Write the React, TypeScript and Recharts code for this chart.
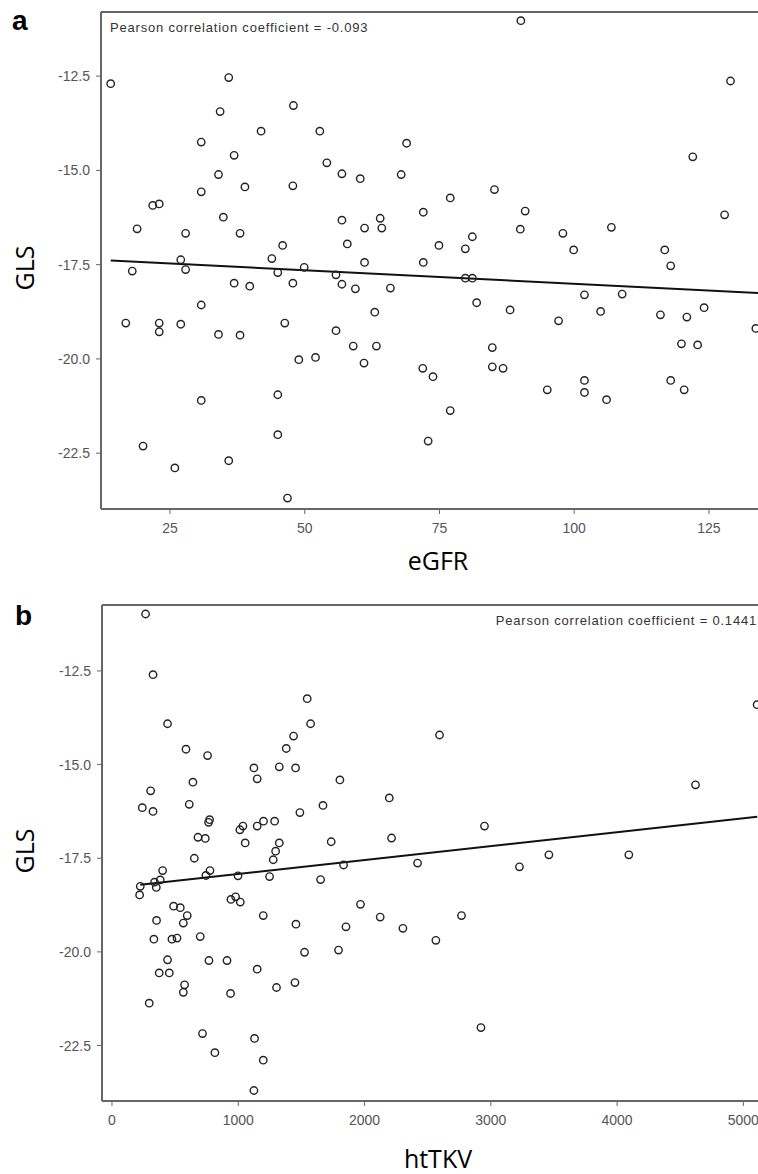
import {
  ReferenceLine,
  Scatter,
  ScatterChart,
  XAxis,
  YAxis,
} from "recharts";

// panel a: GLS vs eGFR
const egfr = [
  14.0, 35.9, 34.3, 47.9, 41.9, 52.8, 30.8, 36.9, 54.1, 34.0, 56.9, 60.3, 47.8,
  38.9, 30.8, 21.8, 23.0, 18.9, 27.9, 34.9, 38.0, 56.9, 61.1, 64.0, 57.9, 45.9,
  43.9, 27.0, 61.1, 18.0, 27.9, 45.0, 49.9, 55.8, 36.9, 39.8, 47.8, 56.9, 59.4,
  90.1, 129.0, 68.9, 67.9, 122.0, 85.2, 77.0, 90.9, 72.0, 127.9, 64.3, 90.0,
  97.9, 106.9, 81.1, 74.9, 79.8, 99.9, 116.8, 72.0, 117.9, 79.8, 81.1, 65.9,
  101.9, 108.9, 81.9, 88.1, 104.9, 97.1, 116.0, 120.9, 124.1, 133.7, 63.0, 63.3,
  84.8, 71.9, 73.8, 84.8, 86.8, 77.0, 72.9, 95.0, 101.9, 101.9, 106.0, 117.9,
  120.4, 119.9, 122.9, 16.8, 23.0, 23.0, 27.0, 30.8, 34.0, 38.0, 46.3, 55.8,
  59.0, 48.9, 52.0, 61.0, 30.8, 45.0, 45.0, 20.0, 25.9, 35.9, 46.8,
];
const glsA = [
  -12.7, -12.54, -13.44, -13.28, -13.96, -13.96, -14.25, -14.6, -14.8, -15.11,
  -15.09, -15.22, -15.41, -15.44, -15.57, -15.93, -15.89, -16.55, -16.67, -16.24,
  -16.67, -16.32, -16.53, -16.27, -16.95, -16.99, -17.34, -17.37, -17.44, -17.67,
  -17.63, -17.71, -17.57, -17.77, -17.99, -18.07, -17.99, -18.02, -18.14, -11.03,
  -12.63, -14.28, -15.11, -14.64, -15.51, -15.73, -16.08, -16.11, -16.18, -16.53,
  -16.56, -16.67, -16.51, -16.76, -16.99, -17.08, -17.11, -17.11, -17.44, -17.53,
  -17.86, -17.86, -18.12, -18.3, -18.28, -18.51, -18.7, -18.74, -18.99, -18.83,
  -18.89, -18.64, -19.19, -18.76, -19.66, -19.7, -20.25, -20.47, -20.21, -20.25,
  -21.37, -22.18, -20.82, -20.57, -20.89, -21.08, -20.57, -20.82, -19.6, -19.63,
  -19.05, -19.05, -19.28, -19.08, -18.57, -19.35, -19.37, -19.05, -19.25, -19.66,
  -20.02, -19.96, -20.11, -21.1, -20.95, -22.01, -22.31, -22.89, -22.7, -23.69,
];
const fitA = [
  { x: 14, y: -17.39 },
  { x: 134.1, y: -18.25 },
];
const egfrTicks = [25, 50, 75, 100, 125];

// panel b: GLS vs htTKV
const httkv = [
  266, 325, 440, 586, 757, 1546, 1573, 1438, 1380, 1124, 1150, 1325, 1454, 1805,
  641, 306, 240, 325, 612, 1671, 1488, 773, 765, 1013, 1037, 1150, 1200, 1288,
  681, 739, 1055, 1325, 1736, 1296, 1277, 652, 1834, 401, 776, 744, 998, 1248,
  1652, 337, 382, 224, 351, 219, 488, 541, 942, 979, 1016, 2196, 2214, 1968, 2594,
  2950, 4621, 5109, 2420, 3227, 3460, 4093, 596, 565, 353, 332, 475, 515, 699,
  1198, 1457, 1853, 2124, 1794, 1525, 440, 768, 911, 374, 454, 1150, 575, 565,
  939, 1303, 1449, 295, 717, 1129, 815, 1198, 1124, 2304, 2565, 2768, 2922,
];
const glsB = [
  -10.98, -12.6, -13.91, -14.59, -14.76, -13.24, -13.91, -14.24, -14.57, -15.09,
  -15.38, -15.06, -15.09, -15.41, -15.47, -15.7, -16.15, -16.25, -16.06, -16.09,
  -16.28, -16.47, -16.54, -16.74, -16.64, -16.64, -16.51, -16.51, -16.94, -16.97,
  -17.09, -17.09, -17.06, -17.31, -17.54, -17.5, -17.68, -17.83, -17.83, -17.96,
  -17.97, -17.99, -18.07, -18.14, -18.08, -18.25, -18.28, -18.48, -18.78, -18.82,
  -18.6, -18.53, -18.67, -15.89, -16.96, -18.73, -14.21, -16.64, -15.54, -13.4,
  -17.63, -17.73, -17.41, -17.41, -19.03, -19.23, -19.16, -19.66, -19.66, -19.63,
  -19.59, -19.03, -19.26, -19.33, -19.07, -19.95, -20.01, -20.21, -20.23, -20.23,
  -20.56, -20.56, -20.46, -20.88, -21.08, -21.11, -20.95, -20.82, -21.37, -22.18,
  -22.31, -22.69, -22.89, -23.7, -19.37, -19.69, -19.03, -22.02,
];
const fitB = [
  { x: 224, y: -18.21 },
  { x: 5110, y: -16.39 },
];
const httkvTicks = [0, 1000, 2000, 3000, 4000, 5000];

const glsTicks = [-22.5, -20, -17.5, -15, -12.5];

const toPoints = (xs: number[], ys: number[]) =>
  xs.map((x, i) => ({ x, y: ys[i] }));

const AXIS_GREY = "#666";
const tickStyle = {
  fill: "#555",
  fontSize: 14,
  fontFamily: "'Liberation Sans', Arial, sans-serif",
};

const HollowDot = (props: any) => (
  <circle
    cx={props.cx}
    cy={props.cy}
    r={3.7}
    fill="none"
    stroke="#222"
    strokeWidth={1.4}
  />
);

interface PanelProps {
  points: { x: number; y: number }[];
  fit: { x: number; y: number }[];
  xDomain: [number, number];
  yDomain: [number, number];
  xTicks: number[];
  height: number;
  top: number;
  xAxisHeight: number;
  yAxisWidth: number;
}

function Panel({
  points,
  fit,
  xDomain,
  yDomain,
  xTicks,
  height,
  top,
  xAxisHeight,
  yAxisWidth,
}: PanelProps) {
  return (
    <ScatterChart
      width={758}
      height={height}
      margin={{ top, right: 0, bottom: 0, left: 0 }}
    >
      <XAxis
        type="number"
        dataKey="x"
        domain={xDomain}
        ticks={xTicks}
        allowDataOverflow
        height={xAxisHeight}
        tickSize={5}
        tickMargin={9}
        axisLine={{ stroke: AXIS_GREY, strokeWidth: 2 }}
        tickLine={{ stroke: AXIS_GREY }}
        tick={tickStyle}
      />
      <YAxis
        type="number"
        dataKey="y"
        domain={yDomain}
        ticks={glsTicks}
        allowDataOverflow
        width={yAxisWidth}
        tickSize={5}
        tickMargin={6}
        tickFormatter={(v: number) => v.toFixed(1)}
        axisLine={{ stroke: AXIS_GREY, strokeWidth: 2 }}
        tickLine={{ stroke: AXIS_GREY }}
        tick={tickStyle}
      />
      {/* top frame */}
      <ReferenceLine y={yDomain[1]} stroke={AXIS_GREY} strokeWidth={2} />
      <ReferenceLine
        segment={fit}
        stroke="#111"
        strokeWidth={2}
        ifOverflow="visible"
      />
      <Scatter data={points} shape={HollowDot} isAnimationActive={false} />
    </ScatterChart>
  );
}

const titleFont = "'Open Sans', sans-serif";
const noteFont = "'Liberation Sans', Arial, sans-serif";

export default function App() {
  return (
    <div
      style={{
        position: "absolute",
        left: 0,
        top: 0,
        width: 758,
        height: 1174,
        background: "#fff",
      }}
    >
      <Panel
        points={toPoints(egfr, glsA)}
        fit={fitA}
        xDomain={[12.2, 134.1]}
        yDomain={[-23.98, -10.8]}
        xTicks={egfrTicks}
        height={590}
        top={12}
        xAxisHeight={81}
        yAxisWidth={101}
      />
      <Panel
        points={toPoints(httkv, glsB)}
        fit={fitB}
        xDomain={[-79, 5116]}
        yDomain={[-23.98, -10.74]}
        xTicks={httkvTicks}
        height={584}
        top={15}
        xAxisHeight={73}
        yAxisWidth={102}
      />
      {/* panel letters, axis titles and notes */}
      <svg
        width={758}
        height={1174}
        style={{ position: "absolute", left: 0, top: 0, pointerEvents: "none" }}
      >
        <text x={12} y={30} fontSize={28} fontWeight="bold" fontFamily={noteFont}>
          a
        </text>
        <text x={15} y={625} fontSize={28} fontWeight="bold" fontFamily={noteFont}>
          b
        </text>
        <text
          transform="translate(34,268) rotate(-90)"
          textAnchor="middle"
          fontSize={25}
          fontFamily={titleFont}
        >
          GLS
        </text>
        <text
          transform="translate(34,851) rotate(-90)"
          textAnchor="middle"
          fontSize={25}
          fontFamily={titleFont}
        >
          GLS
        </text>
        <text x={438} y={570} textAnchor="middle" fontSize={25} fontFamily={titleFont}>
          eGFR
        </text>
        <text x={438} y={1168} textAnchor="middle" fontSize={25} fontFamily={titleFont}>
          htTKV
        </text>
        <text
          x={110}
          y={31.5}
          fontSize={13}
          letterSpacing={0.8}
          fill="#333"
          fontFamily={noteFont}
        >
          Pearson correlation coefficient = -0.093
        </text>
        <text
          x={757}
          y={625}
          textAnchor="end"
          fontSize={13}
          letterSpacing={0.8}
          fill="#333"
          fontFamily={noteFont}
        >
          Pearson correlation coefficient = 0.1441
        </text>
      </svg>
    </div>
  );
}
